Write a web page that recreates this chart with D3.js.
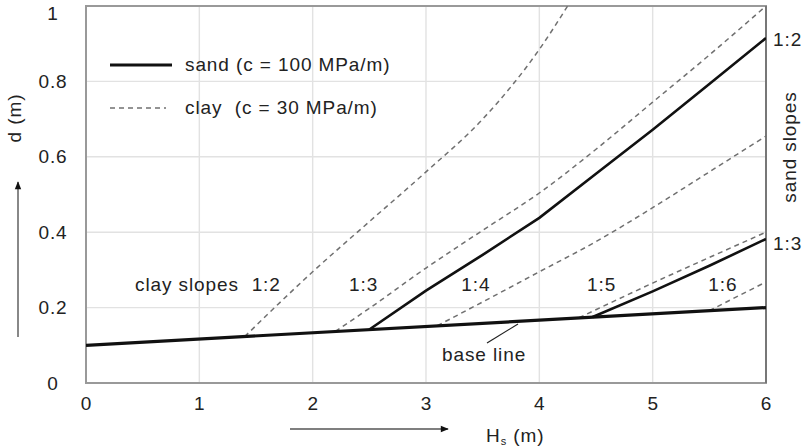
<!DOCTYPE html>
<html>
<head>
<meta charset="utf-8">
<script src="https://cdn.jsdelivr.net/npm/d3@7"></script>
<style>
  html, body { margin: 0; padding: 0; background: #fff; }
  svg text { font-family: "Liberation Sans", Arial, Helvetica, sans-serif; fill: #222; }
</style>
</head>
<body>
<svg id="chart" width="802" height="448"></svg>
<script>
// Axis ticks
const xTicks = [0, 1, 2, 3, 4, 5, 6];
const yTicks = [0, 0.2, 0.4, 0.6, 0.8, 1];
const yTickLabels = ["0", "0.2", "0.4", "0.6", "0.8", "1"];

// Base line: crest level without slope effect
const baseLine = [[0, 0.1], [6, 0.2]];

// Sand (c = 100 MPa/m)
const sandSlope12 = [[2.5, 0.142], [3, 0.245], [3.5, 0.34], [4, 0.438], [4.5, 0.555], [5, 0.672], [5.5, 0.793], [6, 0.915]];
const sandSlope13 = [[4.47, 0.175], [5, 0.243], [5.5, 0.311], [6, 0.382]];

// Clay (c = 30 MPa/m)
const claySlope12 = [[1.4, 0.123], [2, 0.295], [2.5, 0.428], [3, 0.56], [3.5, 0.70], [4, 0.885], [4.25, 1.0]];
const claySlope13 = [[2.2, 0.137], [2.5, 0.198], [3, 0.305], [3.5, 0.405], [4, 0.504], [4.5, 0.62], [5, 0.745], [5.5, 0.87], [6, 1.0]];
const claySlope14 = [[3.1, 0.152], [3.5, 0.215], [4, 0.295], [4.5, 0.375], [5, 0.465], [5.5, 0.56], [6, 0.655]];
const claySlope15 = [[4.35, 0.173], [5, 0.265], [5.5, 0.333], [6, 0.40]];
const claySlope16 = [[5.5, 0.192], [6, 0.268]];

const claySlopeLabels = [
  { text: "1:2", x: 1.59 },
  { text: "1:3", x: 2.45 },
  { text: "1:4", x: 3.44 },
  { text: "1:5", x: 4.55 },
  { text: "1:6", x: 5.62 }
];

const svg = d3.select("#chart");
const plot = { left: 86, right: 766, top: 6, bottom: 383 };

const x = d3.scaleLinear().domain([0, 6]).range([plot.left, plot.right]);
const y = d3.scaleLinear().domain([0, 1]).range([plot.bottom, plot.top]);

const FONT = 19;
const LS = "0.9px";

// Grid
const grid = svg.append("g");
grid.selectAll("line.gx").data(xTicks.slice(1, -1)).join("line")
  .attr("x1", d => x(d)).attr("x2", d => x(d))
  .attr("y1", plot.top).attr("y2", plot.bottom)
  .attr("stroke", "#e2e2e2").attr("stroke-width", 1.4);
grid.selectAll("line.gy").data(yTicks.slice(1, -1)).join("line")
  .attr("x1", plot.left).attr("x2", plot.right)
  .attr("y1", d => y(d)).attr("y2", d => y(d))
  .attr("stroke", "#e2e2e2").attr("stroke-width", 1.4);

// Axes
const xAxis = d3.axisBottom(x).tickValues(xTicks).tickSize(0).tickPadding(14).tickFormat(d3.format("d"));
const gx = svg.append("g").attr("transform", `translate(0,${plot.bottom})`).call(xAxis);
gx.select(".domain").remove();
gx.selectAll("text").style("font-size", FONT + "px").style("letter-spacing", LS).attr("fill", "#222");

const yAxis = d3.axisLeft(y).tickValues(yTicks).tickSize(0).tickFormat((d, i) => yTickLabels[i]);
const gy = svg.append("g").attr("transform", `translate(53,0)`).call(yAxis);
gy.select(".domain").remove();
gy.selectAll("text").attr("text-anchor", "middle").attr("x", 0)
  .style("font-size", FONT + "px").style("letter-spacing", LS).attr("fill", "#222");
// keep the top label inside the canvas
gy.selectAll(".tick").filter(d => d === 1).select("text").attr("y", 7);

// Frame
svg.append("rect")
  .attr("x", plot.left).attr("y", plot.top)
  .attr("width", plot.right - plot.left).attr("height", plot.bottom - plot.top)
  .attr("fill", "none").attr("stroke", "#999").attr("stroke-width", 2);
svg.append("line")
  .attr("x1", plot.right).attr("x2", plot.right).attr("y1", plot.top).attr("y2", plot.bottom)
  .attr("stroke", "#777").attr("stroke-width", 2);

// Curves
svg.append("clipPath").attr("id", "plotclip").append("rect")
  .attr("x", plot.left).attr("y", plot.top)
  .attr("width", plot.right - plot.left).attr("height", plot.bottom - plot.top);

const smooth = d3.line().x(d => x(d[0])).y(d => y(d[1])).curve(d3.curveMonotoneX);
const straight = d3.line().x(d => x(d[0])).y(d => y(d[1]));
const curves = svg.append("g").attr("clip-path", "url(#plotclip)");

[claySlope12, claySlope13, claySlope14, claySlope15, claySlope16].forEach(s => {
  curves.append("path").attr("d", smooth(s))
    .attr("fill", "none").attr("stroke", "#707070")
    .attr("stroke-width", 1.5).attr("stroke-dasharray", "5,4");
});

curves.append("path").attr("d", straight(baseLine))
  .attr("fill", "none").attr("stroke", "#111").attr("stroke-width", 3.2);

[sandSlope12, sandSlope13].forEach(s => {
  curves.append("path").attr("d", straight(s))
    .attr("fill", "none").attr("stroke", "#111").attr("stroke-width", 2.6);
});

// Legend
const legend = svg.append("g");
legend.append("line").attr("x1", 110).attr("x2", 172).attr("y1", 65).attr("y2", 65)
  .attr("stroke", "#111").attr("stroke-width", 3);
legend.append("text").attr("x", 185).attr("y", 71).text("sand (c = 100 MPa/m)")
  .style("font-size", FONT + "px").style("letter-spacing", LS);
legend.append("line").attr("x1", 110).attr("x2", 166).attr("y1", 108).attr("y2", 108)
  .attr("stroke", "#707070").attr("stroke-width", 1.4).attr("stroke-dasharray", "5,4");
legend.append("text").attr("x", 185).attr("y", 114)
  .text("clay  (c = 30 MPa/m)")
  .style("font-size", FONT + "px").style("letter-spacing", LS).style("white-space", "pre");

// Clay slope labels
svg.append("text").attr("x", 135).attr("y", 291).text("clay slopes")
  .style("font-size", FONT + "px").style("letter-spacing", LS);
svg.selectAll("text.cs").data(claySlopeLabels).join("text")
  .attr("class", "cs")
  .attr("x", d => x(d.x)).attr("y", 291).attr("text-anchor", "middle")
  .text(d => d.text)
  .style("font-size", FONT + "px").style("letter-spacing", LS);

// Sand slope labels
svg.append("text").attr("x", 773).attr("y", 46).text("1:2")
  .style("font-size", FONT + "px").style("letter-spacing", LS);
svg.append("text").attr("x", 773).attr("y", 250).text("1:3")
  .style("font-size", FONT + "px").style("letter-spacing", LS);
svg.append("text")
  .attr("transform", "translate(796,147) rotate(-90)")
  .attr("text-anchor", "middle").text("sand slopes")
  .style("font-size", FONT + "px").style("letter-spacing", LS);

// Base line label with leader
svg.append("line").attr("x1", 487).attr("y1", 343).attr("x2", 518).attr("y2", 324)
  .attr("stroke", "#222").attr("stroke-width", 1.2);
svg.append("text").attr("x", 442).attr("y", 361).text("base line")
  .style("font-size", FONT + "px").style("letter-spacing", LS);

// Axis titles with arrows
const defs = svg.append("defs");
defs.append("marker").attr("id", "arrowhead")
  .attr("viewBox", "0 0 10 10").attr("refX", 9).attr("refY", 5)
  .attr("markerWidth", 10).attr("markerHeight", 8).attr("markerUnits", "userSpaceOnUse")
  .attr("orient", "auto")
  .append("path").attr("d", "M0,1 L10,5 L0,9 Z").attr("fill", "#111");

svg.append("line").attr("x1", 290).attr("x2", 448).attr("y1", 429).attr("y2", 429)
  .attr("stroke", "#555").attr("stroke-width", 1.5).attr("marker-end", "url(#arrowhead)");
const xt = svg.append("text").attr("x", 486).attr("y", 442)
  .style("font-size", FONT + "px").style("letter-spacing", LS);
xt.append("tspan").text("H");
xt.append("tspan").attr("dy", 3).style("font-size", "11px").text("s");
xt.append("tspan").attr("dy", -3).text(" (m)");

svg.append("line").attr("x1", 18).attr("x2", 18).attr("y1", 337).attr("y2", 182)
  .attr("stroke", "#888").attr("stroke-width", 2).attr("marker-end", "url(#arrowhead)");
svg.append("text")
  .attr("transform", "translate(21,118) rotate(-90)")
  .attr("text-anchor", "middle").text("d (m)")
  .style("font-size", FONT + "px").style("letter-spacing", LS);
</script>
</body>
</html>
